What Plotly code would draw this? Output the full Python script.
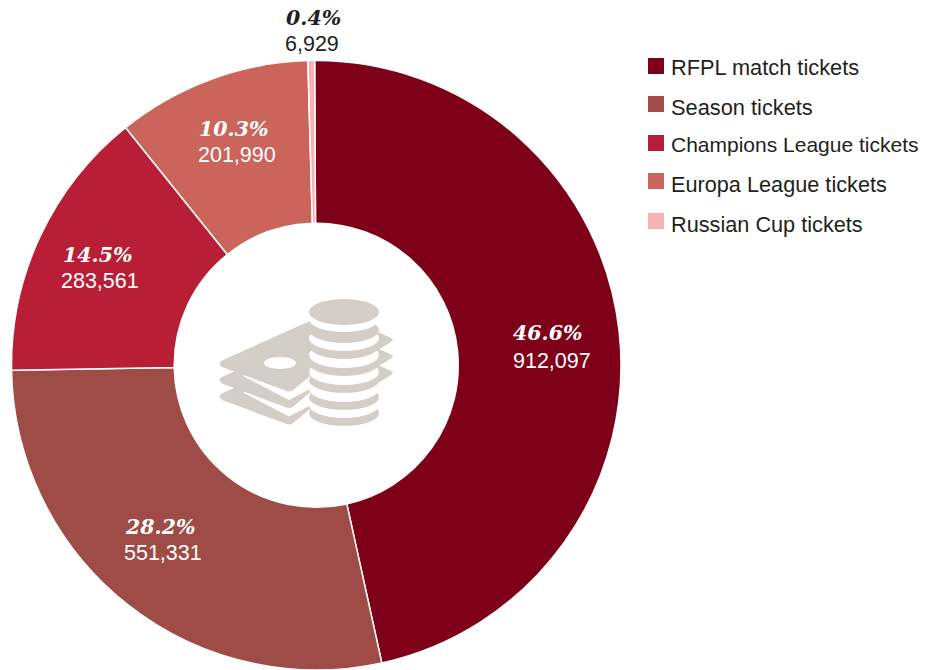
import plotly.graph_objects as go

W, H = 934, 670

categories = ["RFPL match tickets", "Season tickets", "Champions League tickets",
              "Europa League tickets", "Russian Cup tickets"]
values = [912097, 551331, 283561, 201990, 6929]
colors = ["#7f0019", "#a04c46", "#b81f36", "#cb655c", "#f9b1b1"]
label_colors = ["#ffffff", "#ffffff", "#ffffff", "#ffffff", "#231f20"]
pct_pos = [(547, 333), (159.5, 527), (97, 255), (233, 129.5), (313, 18)]
val_pos = [(552, 361), (163, 553), (100, 281), (237, 155), (312, 44)]
legend_swatch_y = [58, 96, 135, 173, 213]
legend_text_y = [68, 107, 145, 184.5, 224]
legend_font_sizes = [21.8, 21.8, 21, 21.7, 21.7]

ICON = "#d3cec8"
TEXT = "#231f20"


def px(x):
    return x / W


def py(y):
    return 1 - y / H


def poly(points, fill, lw=0):
    path = "M " + " L ".join(f"{px(x)},{py(y)}" for x, y in points) + " Z"
    return dict(type="path", xref="paper", yref="paper", path=path, fillcolor=fill,
                line=dict(color=fill, width=lw), layer="above")


def ell(cx, cy, rx, ry, fill):
    return dict(type="circle", xref="paper", yref="paper",
                x0=px(cx - rx), x1=px(cx + rx), y0=py(cy + ry), y1=py(cy - ry),
                fillcolor=fill, line=dict(width=0), layer="above")


total = sum(values)

fig = go.Figure(go.Pie(
    labels=categories, values=values, hole=0.466, sort=False, direction="clockwise",
    rotation=-0.3, marker=dict(colors=colors, line=dict(color="#ffffff", width=1.5)),
    textinfo="none", hoverinfo="label+value+percent", showlegend=False,
    domain=dict(x=[11.5 / W, 621 / W], y=[0, 1 - 60.5 / H]),
))

annotations = []
for v, c, p, q in zip(values, label_colors, pct_pos, val_pos):
    annotations.append(dict(x=px(p[0]), y=py(p[1]), xref="paper", yref="paper", showarrow=False,
                            xanchor="center", yanchor="middle",
                            text=f"<b><i>{v / total * 100:.1f}%</i></b>",
                            font=dict(family="DejaVu Serif", size=20.5, color=c)))
    annotations.append(dict(x=px(q[0]), y=py(q[1]), xref="paper", yref="paper", showarrow=False,
                            xanchor="center", yanchor="middle", text=f"{v:,}",
                            font=dict(family="Liberation Sans", size=21.5, color=c)))

shapes = []
for name, col, sy, ty, fs in zip(categories, colors, legend_swatch_y, legend_text_y, legend_font_sizes):
    shapes.append(dict(type="rect", xref="paper", yref="paper", x0=px(648), x1=px(664),
                       y0=py(sy + 16), y1=py(sy), fillcolor=col, line=dict(width=0)))
    annotations.append(dict(x=px(671), y=py(ty), xref="paper", yref="paper", showarrow=False,
                            xanchor="left", yanchor="middle", xshift=-2, text=name,
                            font=dict(family="Liberation Sans", size=fs, color=TEXT)))

# central decorative icon: banknotes and a coin stack
sheet = [(220, 362), (223, 360), (310, 321), (378, 332), (391, 338), (393, 340), (391, 342),
         (378, 350), (345, 361), (310, 376), (292, 391), (288, 391.5), (222, 367), (220, 365)]
for off, gap in [(33, 16.5), (16.5, 0)]:
    shapes.append(poly([(x, y + off) for x, y in sheet], ICON))
    shapes.append(poly([(243, 376 + gap), (289, 400 + gap), (312, 388 + gap), (312, 370 + gap),
                        (260, 368 + gap)], "#ffffff"))
shapes.append(poly(sheet, ICON))
shapes.append(ell(280, 363, 16, 6, "#ffffff"))

bottoms = [426, 410, 393, 376, 359]
for b in bottoms:
    shapes.append(ell(344, b - 13, 35, 13, ICON))
    shapes.append(ell(344, b - 21, 35, 13, "#ffffff"))
shapes.append(ell(344, 330, 35, 13, ICON))
shapes.append(ell(344, 319, 35, 13, "#ffffff"))
shapes.append(ell(344, 312, 35, 13, ICON))

fig.update_layout(width=W, height=H, margin=dict(l=0, r=0, t=0, b=0),
                  paper_bgcolor="#ffffff", plot_bgcolor="#ffffff",
                  annotations=annotations, shapes=shapes)
fig.write_html("out.html", config=dict(displayModeBar=False),
               post_script="document.body.style.margin='0';document.documentElement.style.overflow='hidden';")
